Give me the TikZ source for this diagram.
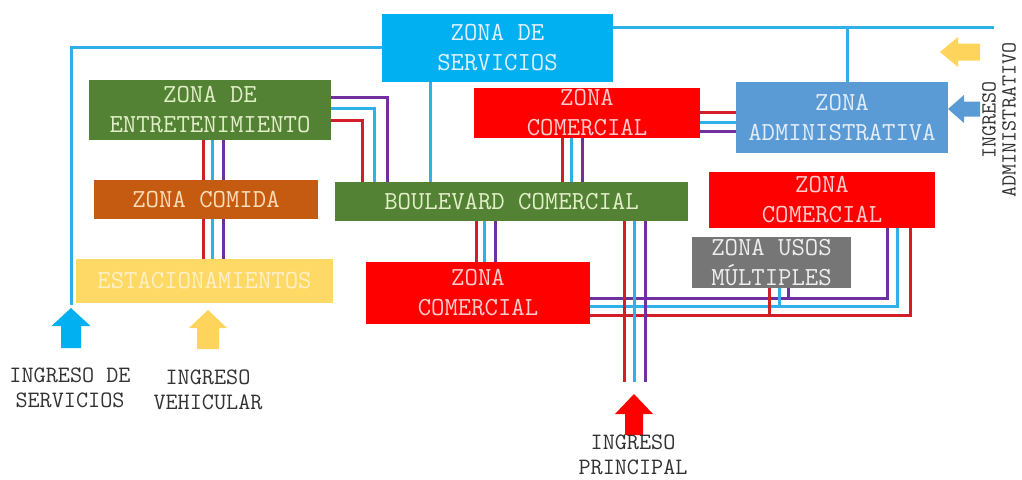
\documentclass[tikz,border=0pt]{standalone}
\usepackage{fontspec}
\usetikzlibrary{positioning, calc}

\definecolor{cserv}{RGB}{0,176,240}
\definecolor{cverde}{RGB}{84,130,53}
\definecolor{ccomida}{RGB}{197,90,17}
\definecolor{crojo}{RGB}{255,0,0}
\definecolor{cadmin}{RGB}{91,155,213}
\definecolor{cgris}{RGB}{118,118,118}
\definecolor{cestac}{RGB}{255,217,102}
\definecolor{camarillo}{RGB}{255,212,92}
\definecolor{lazulc}{RGB}{48,176,232}
\definecolor{lrojoc}{RGB}{210,30,40}
\definecolor{lmoradoc}{RGB}{112,48,160}
\definecolor{ctexto}{RGB}{50,50,50}

\tikzset{
    zona/.style={align=center, inner sep=0pt, font=\ttfamily\fontsize{26}{30}\selectfont},
    ingreso/.style={align=center, inner sep=0pt, text=ctexto, font=\ttfamily\fontsize{23.5}{25.5}\selectfont},
    lazul/.style={draw=lazulc, line width=3pt},
    lrojo/.style={draw=lrojoc, line width=3pt},
    lmorado/.style={draw=lmoradoc, line width=3pt}
}

\begin{document}
\begin{tikzpicture}[x=1pt,y=-1pt]
    \useasboundingbox (0,0) rectangle (1022,479);

    \node[zona, fill=cserv, text={rgb,255:red,225;green,242;blue,255}, minimum width=231, minimum height=68] (srv) at (497.5,48) {ZONA DE\\SERVICIOS};
    \node[zona, fill=cverde, text={rgb,255:red,226;green,240;blue,200}, minimum width=242, minimum height=60] (ent) at (210,110) {ZONA DE\\ENTRETENIMIENTO};
    \node[zona, fill=ccomida, text={rgb,255:red,250;green,222;blue,185}, minimum width=224, minimum height=39] (com) at (206,199.5) {ZONA COMIDA};
    \node[zona, fill=cverde, text={rgb,255:red,226;green,240;blue,200}, minimum width=353, minimum height=39] (blv) at (511.5,201.5) {BOULEVARD COMERCIAL};
    \node[zona, fill=crojo, text={rgb,255:red,255;green,205;blue,205}, minimum width=226, minimum height=50] (zc1) at (587,113) {ZONA\\COMERCIAL};
    \node[zona, fill=cadmin, text={rgb,255:red,228;green,238;blue,250}, minimum width=212, minimum height=71] (adm) at (842,117.5) {ZONA\\ADMINISTRATIVA};
    \node[zona, fill=crojo, text={rgb,255:red,255;green,205;blue,205}, minimum width=226, minimum height=56] (zc2) at (822,200) {ZONA\\COMERCIAL};
    \node[zona, fill=cgris, text={rgb,255:red,238;green,238;blue,238}, minimum width=159, minimum height=51] (usm) at (771.5,262.5) {ZONA USOS\\MÚLTIPLES};
    \node[zona, fill=crojo, text={rgb,255:red,255;green,205;blue,205}, minimum width=224, minimum height=62] (zc3) at (478,293) {ZONA\\COMERCIAL};
    \node[zona, fill=cestac, text={rgb,255:red,255;green,240;blue,200}, minimum width=257, minimum height=44] (est) at (204.5,281) {ESTACIONAMIENTOS};

    \coordinate (insv) at (71,305);
    \coordinate (fin) at (994,27);
    \coordinate (pin) at (634,382);

    \draw[lazul] (srv.west |- 0,47) -| (insv);
    \draw[lazul] (srv.east |- fin) -- (fin);
    \draw[lazul] (847,0 |- fin) -- (847,0 |- adm.north);
    \draw[lazul] (430,0 |- srv.south) -- (430,0 |- blv.north);

    \draw[lmorado] (ent.east |- 0,97) -| (387,0 |- blv.north);
    \draw[lazul] (ent.east |- 0,108) -| (374,0 |- blv.north);
    \draw[lrojo] (ent.east |- 0,120) -| (362,0 |- blv.north);

    \foreach \x/\c in {203/lrojo,212/lazul,223/lmorado}{
        \draw[\c] (\x,0 |- ent.south) -- (\x,0 |- com.north);
        \draw[\c] (\x,0 |- com.south) -- (\x,0 |- est.north);
    }
    \foreach \x/\c in {562/lrojo,571/lazul,582/lmorado}
        \draw[\c] (\x,0 |- zc1.south) -- (\x,0 |- blv.north);
    \foreach \y/\c in {112/lrojo,122/lazul,131/lmorado}
        \draw[\c] (zc1.east |- 0,\y) -- (adm.west |- 0,\y);
    \foreach \x/\c in {476/lrojo,484/lazul,495/lmorado}
        \draw[\c] (\x,0 |- blv.south) -- (\x,0 |- zc3.north);

    \draw[lmorado] (zc3.east |- 0,298) -| (887,0 |- zc2.south);
    \draw[lazul] (zc3.east |- 0,306) -| (897,0 |- zc2.south);
    \draw[lrojo] (zc3.east |- 0,315) -| (910,0 |- zc2.south);
    \draw[lrojo] (769,315) -- (769,0 |- usm.south);
    \draw[lazul] (779,306) -- (779,0 |- usm.south);
    \draw[lmorado] (788,298) -- (788,0 |- usm.south);

    \foreach \x/\c in {624/lrojo,634/lazul,645/lmorado}
        \draw[\c] (\x,0 |- blv.south) -- (\x,0 |- pin);

    \fill[cserv] (71,308) -- ++(19.5,18) -- ++(-9.5,0) -- ++(0,22) -- ++(-20,0) -- ++(0,-22) -- ++(-9.5,0) -- cycle;
    \fill[camarillo] (208,310) -- ++(19,18) -- ++(-8,0) -- ++(0,21) -- ++(-22,0) -- ++(0,-21) -- ++(-8,0) -- cycle;
    \fill[crojo] (634,394) -- ++(19,20) -- ++(-10,0) -- ++(0,21) -- ++(-18,0) -- ++(0,-21) -- ++(-10,0) -- cycle;
    \fill[cadmin] (948,109) -- ++(16,-14) -- ++(0,6.5) -- ++(16,0) -- ++(0,15) -- ++(-16,0) -- ++(0,6.5) -- cycle;
    \fill[camarillo] (940,52) -- ++(18,-15) -- ++(0,6.5) -- ++(22,0) -- ++(0,17) -- ++(-22,0) -- ++(0,6.5) -- cycle;

    \node[ingreso] (tsv) at (70,388) {INGRESO DE\\SERVICIOS};
    \node[ingreso] (tvh) at (208,390) {INGRESO\\VEHICULAR};
    \node[ingreso] (tpr) at (633,455) {INGRESO\\PRINCIPAL};
    \node[ingreso, rotate=90, font=\ttfamily\fontsize{21.5}{20}\selectfont] (tad) at (999,120) {INGRESO\\ADMINISTRATIVO};
\end{tikzpicture}
\end{document}
